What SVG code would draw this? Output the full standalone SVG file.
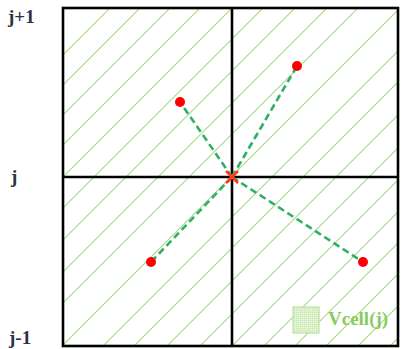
<svg xmlns="http://www.w3.org/2000/svg" width="401" height="349" viewBox="0 0 401 349">
  <style>
    .hatch line { stroke: #a3d985; stroke-width: 1.1; }
    .frame { fill: none; stroke: #000; stroke-width: 2.6; }
    .axis { stroke: #000; stroke-width: 2.6; }
    .dash { stroke: #2fb064; stroke-width: 2.6; stroke-dasharray: 7 4; fill: none; }
    .pt { fill: #ff0000; }
    .lbl { font-family: "Liberation Serif", "Times New Roman", serif; font-weight: bold; font-size: 19px; fill: #2a3346; }
    .leg { font-family: "Liberation Serif", "Times New Roman", serif; font-weight: bold; font-size: 19px; fill: #86cc5c; }
  </style>
  <defs>
    <clipPath id="box"><rect x="63" y="8" width="335" height="338"/></clipPath>
    <pattern id="dots" width="2" height="2" patternUnits="userSpaceOnUse">
      <rect width="2" height="2" fill="#e2f3d4"/>
      <rect width="1" height="1" fill="#c4e6ac"/>
    </pattern>
  </defs>
  <rect width="401" height="349" fill="#fff"/>
  <g id="hatch" class="hatch" clip-path="url(#box)">
    <line x1="-282" y1="400" x2="118" y2="0"/>
    <line x1="-252" y1="400" x2="148" y2="0"/>
    <line x1="-222" y1="400" x2="178" y2="0"/>
    <line x1="-192" y1="400" x2="208" y2="0"/>
    <line x1="-160" y1="400" x2="240" y2="0"/>
    <line x1="-129" y1="400" x2="271" y2="0"/>
    <line x1="-97" y1="400" x2="303" y2="0"/>
    <line x1="-65" y1="400" x2="335" y2="0"/>
    <line x1="-34" y1="400" x2="366" y2="0"/>
    <line x1="8" y1="400" x2="408" y2="0"/>
    <line x1="49" y1="400" x2="449" y2="0"/>
    <line x1="80" y1="400" x2="480" y2="0"/>
    <line x1="113" y1="400" x2="513" y2="0"/>
    <line x1="146" y1="400" x2="546" y2="0"/>
    <line x1="178" y1="400" x2="578" y2="0"/>
    <line x1="210" y1="400" x2="610" y2="0"/>
    <line x1="241" y1="400" x2="641" y2="0"/>
    <line x1="272" y1="400" x2="672" y2="0"/>
    <line x1="304" y1="400" x2="704" y2="0"/>
    <line x1="336" y1="400" x2="736" y2="0"/>
  </g>
  <g id="grid">
    <rect class="frame" x="63" y="8" width="335" height="338"/>
    <line class="axis" x1="232" y1="8" x2="232" y2="346"/>
    <line class="axis" x1="63" y1="177" x2="398" y2="177"/>
  </g>
  <g id="connectors">
    <line class="dash" x1="232" y1="177" x2="180" y2="102"/>
    <line class="dash" x1="232" y1="177" x2="297" y2="66"/>
    <line class="dash" x1="232" y1="177" x2="151" y2="262"/>
    <line class="dash" x1="232" y1="177" x2="363" y2="262"/>
  </g>
  <g id="p1"><circle class="pt" cx="180" cy="102" r="5"/></g>
  <g id="p2"><circle class="pt" cx="297" cy="66" r="5"/></g>
  <g id="p3"><circle class="pt" cx="151" cy="262" r="5"/></g>
  <g id="p4"><circle class="pt" cx="363" cy="262" r="5"/></g>
  <g id="center">
    <path d="M226 171 L238 183 M238 171 L226 183" stroke="#ff3a1a" stroke-width="2.6" fill="none"/>
  </g>
  <g id="labels">
    <text class="lbl" x="8" y="23">j+1</text>
    <text class="lbl" x="11" y="183">j</text>
    <text class="lbl" x="9" y="344">j-1</text>
  </g>
  <g id="legend">
    <rect x="293" y="307" width="26" height="26" fill="url(#dots)" stroke="#b4dd9c" stroke-width="1"/>
    <text class="leg" x="328" y="325">Vcell(j)</text>
  </g>
</svg>
